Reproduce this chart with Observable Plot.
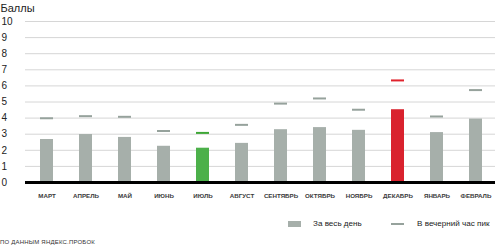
<!DOCTYPE html>
<html>
<head>
<meta charset="utf-8">
<script src="https://cdn.jsdelivr.net/npm/d3@7"></script>
<script src="https://cdn.jsdelivr.net/npm/@observablehq/plot@0.6"></script>
<style>
  html, body { margin: 0; padding: 0; background: #fff; }
  #wrap { position: relative; width: 495px; height: 247px; overflow: hidden; font-family: "Liberation Sans", Arial, sans-serif; }
  #legend { position: absolute; top: 219px; left: 288px; font-size: 8.1px; color: #222; white-space: nowrap; }
  .sw { display: inline-block; vertical-align: middle; }
  #caption { position: absolute; top: 239px; left: 0; font-size: 6px; color: #333; letter-spacing: 0.2px; }
</style>
</head>
<body>
<div id="wrap">
  <div id="chart"></div>
  <div id="legend">
    <span class="sw" style="width:13px;height:6px;background:#a6afaa;margin-right:12px"></span><span style="vertical-align:middle">За весь день</span>
    <span class="sw" style="width:13px;height:2px;background:#96a29c;margin-left:27px;margin-right:13px"></span><span style="vertical-align:middle">В вечерний час пик</span>
  </div>
  <div id="caption">ПО ДАННЫМ ЯНДЕКС.ПРОБОК</div>
</div>
<script>
const months = ["МАРТ","АПРЕЛЬ","МАЙ","ИЮНЬ","ИЮЛЬ","АВГУСТ","СЕНТЯБРЬ","ОКТЯБРЬ","НОЯБРЬ","ДЕКАБРЬ","ЯНВАРЬ","ФЕВРАЛЬ"];
const dayScore = [2.67, 2.98, 2.8, 2.25, 2.13, 2.43, 3.28, 3.41, 3.24, 4.52, 3.1, 3.94];
const peakScore = [3.99, 4.12, 4.08, 3.2, 3.08, 3.58, 4.9, 5.22, 4.52, 6.34, 4.1, 5.74];
const yTicks = [0,1,2,3,4,5,6,7,8,9,10];
const minMonth = "ИЮЛЬ";
const maxMonth = "ДЕКАБРЬ";

const data = months.map((m, i) => ({month: m, day: dayScore[i], peak: peakScore[i]}));
const barFill = d => d.month === minMonth ? "#4cb04a" : d.month === maxMonth ? "#d9222e" : "#a6afaa";
const tickStroke = d => d.month === minMonth ? "#3ea636" : d.month === maxMonth ? "#e0232d" : "#96a29c";

const chart = Plot.plot({
  width: 495,
  height: 210,
  marginLeft: 25,
  marginRight: 0,
  marginTop: 21,
  marginBottom: 28,
  style: {fontFamily: "Liberation Sans, Arial, sans-serif", background: "#fff", overflow: "visible"},
  x: {type: "band", domain: months, range: [26, 496], paddingInner: 0.67, paddingOuter: 0.335, label: null},
  y: {domain: [0, 10], ticks: yTicks, label: null},
  marks: [
    Plot.gridY(yTicks.filter(t => t > 0), {stroke: "#d6d6d6", strokeOpacity: 1, strokeWidth: 1}),
    Plot.axisY({ticks: yTicks, tickSize: 0, tickPadding: 24, textAnchor: "start", fontSize: 10, fill: "#222", label: null}),
    Plot.axisX({tickSize: 0, tickPadding: 11, fontSize: 6.2, fontWeight: "bold", fill: "#3a3a3a", label: null, style: {letterSpacing: "0.4px"}}),
    Plot.barY(data, {x: "month", y: "day", fill: barFill}),
    Plot.tickY(data, {x: "month", y: "peak", stroke: tickStroke, strokeWidth: 2}),
    Plot.ruleY([0], {stroke: "#000", strokeWidth: 3}),
    Plot.text(["Баллы"], {frameAnchor: "top-left", dx: -25, dy: -17, text: d => d, fontSize: 11, fill: "#222", textAnchor: "start"})
  ]
});
document.getElementById("chart").appendChild(chart);
</script>
</body>
</html>
